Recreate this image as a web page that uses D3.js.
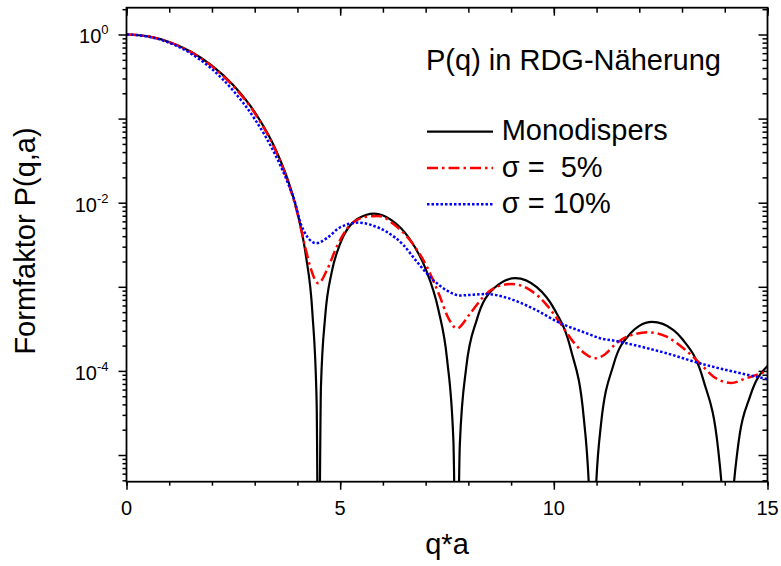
<!DOCTYPE html>
<html lang="de">
  <head>
    <meta charset="utf-8">
    <title>Formfaktor</title>
    <script src="https://cdn.jsdelivr.net/npm/d3@7"></script>
    <style>
      html, body { margin: 0; padding: 0; background: #fff; overflow: hidden; }
      svg { display: block; }
      text { font-family: "Liberation Sans", Arial, sans-serif; }
    </style>
  </head>
  <body>
    <svg width="781" height="566" id="mainsvg"></svg>
    <script>
      const svg = d3.select('#mainsvg');
      const width = +svg.attr('width');
      const height = +svg.attr('height');
      const margin = { top: 7.7, right: 13.5, bottom: 84.3, left: 126.5 };
      const innerWidth = width - margin.left - margin.right;
      const innerHeight = height - margin.top - margin.bottom;

      // Werte (Nullstellen liegen unter der Achse -> 1e-7)
      const qMono = [0, 0.5, 1, 1.5, 2, 2.5, 3, 3.5, 3.75, 4, 4.2, 4.35, 4.45, 4.493, 4.55, 4.65, 4.8, 5,
        5.4, 5.8, 6.2, 6.6, 7, 7.3, 7.5, 7.65, 7.725, 7.8, 7.95, 8.2, 8.6, 9.1, 9.6, 10, 10.4, 10.7,
        10.85, 10.904, 10.96, 11.1, 11.4, 11.8, 12.0, 12.3, 12.8, 13, 13.5, 13.85, 14.0, 14.066, 14.13,
        14.3, 14.6, 15];
      const pMono = [1, 0.9511, 0.8163, 0.6278, 0.4265, 0.2495, 0.1195, 0.04194, 0.02032, 0.007583,
        0.002312, 4.93e-4, 4.12e-5, 1e-7, 6.41e-5, 4.48e-4, 1.476e-3, 3.255e-3, 6.40e-3, 7.42e-3,
        6.21e-3, 3.87e-3, 1.633e-3, 5.30e-4, 1.396e-4, 1.46e-5, 1e-7, 1.33e-5, 1.10e-4, 4.10e-4,
        9.61e-4, 1.268e-3, 9.90e-4, 5.54e-4, 1.78e-4, 2.78e-5, 1.8e-6, 1e-7, 1.9e-6, 2.23e-5, 1.20e-4,
        2.82e-4, 3.43e-4, 3.82e-4, 3.06e-4, 2.41e-4, 7.77e-5, 1.11e-5, 1.0e-6, 1e-7, 9e-7, 1.15e-5,
        5.11e-5, 1.146e-4];

      const qS5 = [0, 0.5, 1, 1.5, 2, 2.5, 3, 3.5, 3.8, 4.0, 4.18, 4.3, 4.49, 4.69, 4.92, 5.23, 5.62,
        5.9, 6.3, 6.63, 7.03, 7.34, 7.5, 7.73, 8.04, 8.35, 8.66, 9.01, 9.44, 9.83, 10.15, 10.46, 10.77,
        10.96, 11.2, 11.45, 11.71, 12.21, 12.64, 13.03, 13.42, 13.73, 14.15, 14.51, 15];
      const pS5 = [1, 0.950, 0.812, 0.620, 0.418, 0.243, 0.116, 0.0405, 0.0165, 0.0075, 0.0030,
        0.00173, 0.00110, 0.00158, 0.0030, 0.0054, 0.0068, 0.00695, 0.0053, 0.0036, 0.00173, 7.5e-4,
        4.6e-4, 3.2e-4, 4.8e-4, 7.6e-4, 1.0e-3, 1.08e-3, 9.2e-4, 6.1e-4, 3.7e-4, 2.2e-4, 1.55e-4,
        1.41e-4, 1.58e-4, 2.1e-4, 2.55e-4, 2.88e-4, 2.55e-4, 1.86e-4, 1.23e-4, 8.6e-5, 7.2e-5, 8.2e-5,
        1.0e-4];

      const qS10 = [0, 0.5, 1, 1.5, 2, 2.5, 3, 3.5, 3.75, 3.95, 4.06, 4.22, 4.44, 4.69, 5.0, 5.43, 5.74,
        6.09, 6.48, 6.79, 7.18, 7.49, 7.8, 8.43, 8.9, 9.52, 10.15, 10.77, 11.08, 11.47, 11.86, 12.64,
        13.42, 14.2, 15.0];
      const pS10 = [1, 0.945, 0.797, 0.597, 0.388, 0.214, 0.099, 0.0355, 0.0185, 0.0098, 0.0060, 0.0040,
        0.0033, 0.0038, 0.0051, 0.0058, 0.0054, 0.0045, 0.00314, 0.0020, 0.00120, 9.1e-4, 7.9e-4,
        8.2e-4, 7.4e-4, 5.5e-4, 3.7e-4, 2.8e-4, 2.45e-4, 2.26e-4, 2.04e-4, 1.62e-4, 1.23e-4, 9.8e-5,
        8.0e-5];

      const xMajorTicks = [0, 5, 10, 15];
      const xMinorTicks = [0, 1, 2, 3, 4, 5, 6, 7, 8, 9, 10, 11, 12, 13, 14, 15];
      const yDecades = [0, -1, -2, -3, -4, -5];
      const yLabelled = [0, -2, -4];
      const legendNames = ['Monodispers', 'σ =  5%', 'σ = 10%'];
      const titleText = 'P(q) in RDG-Näherung';
      const xAxisLabel = 'q*a';
      const yAxisLabel = 'Formfaktor P(q,a)';

      const xScale = d3.scaleLinear().domain([0, 15]).range([0, innerWidth]);
      const yScale = d3.scaleLog().domain([4.815e-6, 2.083]).range([innerHeight, 0]);

      const yMajor = yDecades.map(e => Math.pow(10, e));
      const yMinor = [];
      for (let e = -6; e <= 0; e++) {
        for (let k = 2; k <= 9; k++) {
          const v = k * Math.pow(10, e);
          if (v > yScale.domain()[0] && v < yScale.domain()[1]) yMinor.push(v);
        }
      }

      svg.append('rect').attr('width', width).attr('height', height).attr('fill', '#fff');

      const g = svg.append('g')
        .attr('transform', `translate(${margin.left}, ${margin.top})`)
        .attr('id', 'maingroup');

      // Achsen (nur Striche)
      const axes = [
        [d3.axisBottom(xScale).tickValues(xMinorTicks).tickSize(4), `translate(0, ${innerHeight})`],
        [d3.axisBottom(xScale).tickValues(xMajorTicks).tickSize(8), `translate(0, ${innerHeight})`],
        [d3.axisTop(xScale).tickValues(xMinorTicks).tickSize(-5), null],
        [d3.axisTop(xScale).tickValues(xMajorTicks).tickSize(-8), null],
        [d3.axisLeft(yScale).tickValues(yMinor).tickSize(4), null],
        [d3.axisLeft(yScale).tickValues(yMajor).tickSize(8), null],
        [d3.axisRight(yScale).tickValues(yMinor).tickSize(-5), `translate(${innerWidth}, 0)`],
        [d3.axisRight(yScale).tickValues(yMajor).tickSize(-9), `translate(${innerWidth}, 0)`]
      ];
      axes.forEach(([ax, tr]) => {
        const ag = g.append('g').call(ax.tickFormat(''));
        if (tr) ag.attr('transform', tr);
        ag.selectAll('.domain').remove();
        ag.selectAll('.tick line').attr('stroke', '#000').attr('stroke-width', 1.5);
        ag.selectAll('.tick text').remove();
      });

      // Beschriftung x
      g.selectAll('.xlabel')
        .data(xMajorTicks)
        .enter().append('text')
        .attr('class', 'xlabel')
        .attr('x', d => xScale(d))
        .attr('y', innerHeight + 33.5)
        .attr('text-anchor', 'middle')
        .attr('font-size', 20)
        .attr('fill', '#000')
        .text(d => d);

      // Beschriftung y (10^n)
      const ylab = g.selectAll('.ylabel')
        .data(yLabelled)
        .enter().append('text')
        .attr('class', 'ylabel')
        .attr('x', -18)
        .attr('y', d => yScale(Math.pow(10, d)) + 9)
        .attr('text-anchor', 'end')
        .attr('font-size', 20)
        .attr('fill', '#000');
      ylab.append('tspan').text('10');
      ylab.append('tspan').attr('font-size', 13).attr('dy', -9).text(d => d);

      // Kurven
      g.append('clipPath').attr('id', 'clip')
        .append('rect').attr('width', innerWidth).attr('height', innerHeight);

      const line = d3.line()
        .x(d => xScale(d[0]))
        .y(d => yScale(d[1]))
        .curve(d3.curveMonotoneX);

      const series = [
        { q: qMono, p: pMono, color: '#000000', w: 2.2, dash: null },
        { q: qS5, p: pS5, color: '#ff0000', w: 2.5, dash: '11,4,2.5,4' },
        { q: qS10, p: pS10, color: '#0000ff', w: 2.5, dash: '2.5,2' }
      ];
      const curves = g.append('g').attr('clip-path', 'url(#clip)');
      series.forEach(s => {
        curves.append('path')
          .datum(s.q.map((q, i) => [q, s.p[i]]))
          .attr('d', line)
          .attr('fill', 'none')
          .attr('stroke', s.color)
          .attr('stroke-width', s.w)
          .attr('stroke-dasharray', s.dash);
      });

      // Rahmen
      g.append('rect')
        .attr('width', innerWidth).attr('height', innerHeight)
        .attr('fill', 'none').attr('stroke', '#000').attr('stroke-width', 1.8);

      // Titel + Legende
      g.append('text').text(titleText)
        .attr('x', 299.5).attr('y', 62.3)
        .attr('font-size', 29).attr('fill', '#000');

      const legend = g.selectAll('.legend')
        .data(legendNames)
        .enter().append('g')
        .attr('class', 'legend')
        .attr('transform', (d, i) => `translate(300.5, ${124 + i * 36.3})`);
      legend.append('line')
        .attr('x1', 0).attr('x2', 66).attr('y1', 0).attr('y2', 0)
        .attr('stroke', (d, i) => series[i].color)
        .attr('stroke-width', (d, i) => series[i].w)
        .attr('stroke-dasharray', (d, i) => series[i].dash);
      legend.append('text')
        .attr('x', 74.7).attr('y', 8.5)
        .attr('font-size', 29).attr('fill', '#000')
        .style('white-space', 'pre')
        .text(d => d);

      // Achsentitel
      g.append('text').text(xAxisLabel)
        .attr('x', innerWidth / 2).attr('y', 546)
        .attr('text-anchor', 'middle')
        .attr('font-size', 29).attr('fill', '#000');
      g.append('text').text(yAxisLabel)
        .attr('transform', `translate(${35 - margin.left}, ${241 - margin.top}) rotate(-90)`)
        .attr('text-anchor', 'middle')
        .attr('font-size', 29).attr('fill', '#000');
    </script>
  </body>
</html>
